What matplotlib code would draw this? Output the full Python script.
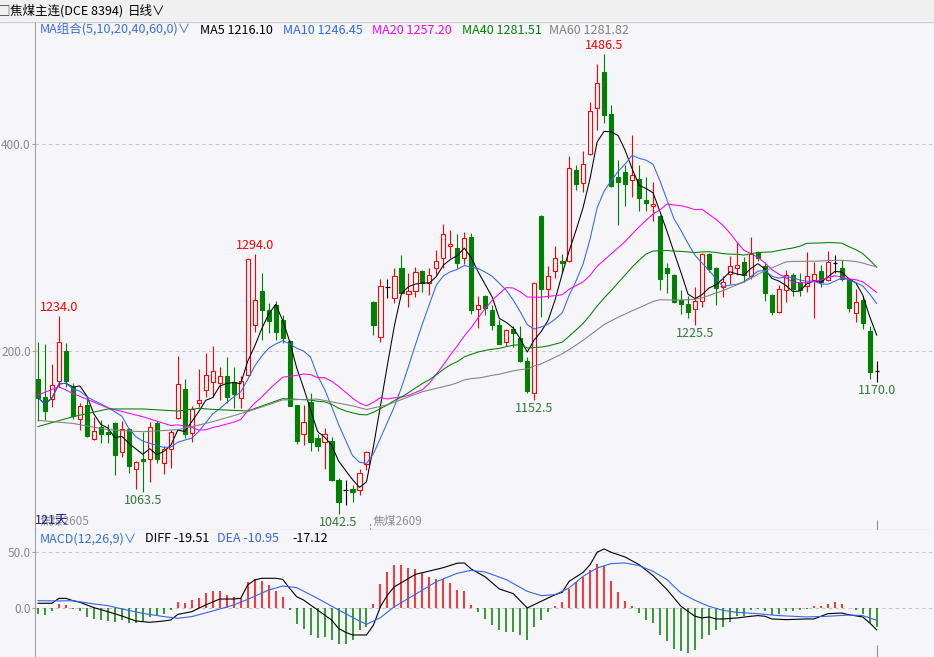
import numpy as np
import pandas as pd
import matplotlib
matplotlib.use('Agg')
import matplotlib.pyplot as plt
from matplotlib.patches import Rectangle

plt.rcParams['font.family'] = ['Noto Sans CJK SC', 'DejaVu Sans']

# ---- daily bars (121 days) ----
opens = [1173, 1156, 1154, 1171, 1200, 1165, 1134, 1148, 1115, 1127,
         1122, 1130, 1102, 1125, 1086, 1096, 1096, 1130, 1092, 1105,
         1135, 1163, 1121, 1150, 1162, 1170, 1169, 1176, 1170, 1155,
         1177, 1225, 1258, 1240, 1244, 1230, 1210, 1148, 1120, 1151,
         1116, 1112, 1113, 1075, 1066, 1067, 1066, 1091, 1247, 1214,
         1261.5, 1251, 1280, 1255, 1258, 1277, 1266, 1280, 1290, 1301,
         1300, 1290, 1310, 1241, 1253, 1240, 1225, 1209, 1221, 1213,
         1190, 1159, 1330, 1260, 1277, 1287, 1287, 1375, 1362, 1390,
         1435, 1470, 1429, 1368, 1373, 1365, 1366, 1346, 1340, 1330,
         1280, 1273, 1249, 1245, 1241, 1248, 1294, 1280, 1262, 1274,
         1280, 1286, 1272, 1296, 1282, 1254, 1238, 1259, 1273, 1267,
         1263, 1269, 1277, 1269, 1285, 1280, 1269, 1237, 1249, 1219, 1181]
highs = [1209, 1207, 1187, 1234, 1208, 1169, 1150, 1154, 1136, 1133,
         1129, 1131, 1132, 1126, 1094, 1122, 1131, 1132, 1108, 1124,
         1195, 1173, 1147, 1183, 1198, 1205, 1185, 1194, 1185, 1176,
         1290, 1294, 1275, 1246, 1248, 1235, 1211, 1148, 1148, 1159,
         1120, 1126, 1117, 1077, 1075, 1071, 1086, 1103, 1248, 1270,
         1270, 1280, 1293, 1275, 1281, 1278, 1280, 1298, 1323, 1317,
         1313, 1315, 1314, 1253, 1254, 1244, 1231, 1221, 1224, 1224,
         1194, 1267, 1331, 1282, 1301, 1294, 1388, 1380, 1393, 1441,
         1477, 1486.5, 1438, 1385, 1380, 1409, 1380, 1368, 1363, 1331,
         1285, 1274, 1259, 1253, 1262, 1295, 1295, 1281, 1272, 1292,
         1305, 1291, 1310, 1297, 1286, 1255, 1264, 1278, 1275, 1275,
         1296, 1286, 1283, 1297, 1293, 1288, 1270, 1260, 1253, 1224, 1190]
lows = [1132, 1133, 1146, 1165, 1165, 1134, 1124, 1117, 1114, 1111,
        1111, 1080, 1098, 1082, 1067, 1063.5, 1073, 1092, 1081, 1087,
        1134, 1116, 1112, 1146, 1156, 1156, 1153, 1150, 1145, 1145,
        1176, 1218, 1211, 1217, 1211, 1208, 1147, 1110, 1109, 1103,
        1103, 1086, 1074, 1042.5, 1051, 1054, 1061, 1085, 1215, 1209,
        1251, 1246, 1255, 1243, 1252, 1257, 1254, 1273, 1280, 1290,
        1280, 1284, 1236, 1222, 1235, 1220, 1207, 1205, 1204, 1189,
        1159, 1152.5, 1233, 1251, 1271, 1275, 1286, 1356, 1354, 1389,
        1414, 1420, 1358, 1322, 1340, 1349, 1335, 1335, 1326, 1259,
        1256, 1246, 1236, 1232, 1225.5, 1243, 1276, 1244, 1252, 1265,
        1273, 1267, 1270, 1287, 1248, 1235, 1237, 1247, 1253, 1253,
        1257, 1232, 1262, 1268, 1275, 1268, 1238, 1228, 1221, 1173, 1170]
closes = [1155, 1142, 1167, 1209, 1171, 1137, 1147, 1118, 1123, 1120,
          1120, 1100, 1125, 1089, 1093, 1094, 1127, 1096, 1105, 1122,
          1168, 1120, 1144, 1153, 1177, 1181, 1176, 1156, 1158, 1171,
          1289, 1249, 1240, 1229, 1218, 1213, 1147, 1113, 1131, 1112,
          1108, 1120, 1075, 1054, 1066, 1064, 1082, 1102, 1225, 1263,
          1261.5, 1272, 1256, 1258, 1276, 1266, 1273, 1287, 1313, 1303,
          1285, 1309, 1240, 1244, 1242, 1225, 1207, 1220, 1217, 1190,
          1161, 1266, 1260, 1272, 1290, 1285, 1377, 1361, 1381, 1432,
          1459, 1428, 1359, 1363, 1361, 1370, 1348, 1343, 1342, 1270,
          1275, 1247, 1245, 1238, 1248, 1294, 1279, 1261, 1267, 1282,
          1283, 1273, 1294, 1290, 1256, 1238, 1260, 1273, 1260, 1259,
          1272, 1274, 1267, 1286, 1285, 1270, 1242, 1247, 1227, 1180, 1181]

# start of the long averages (before a full window exists), read at sample days
ma20_lead_idx = [0, 3, 5, 10, 15]
ma20_lead_val = [1157.5, 1165.5, 1159, 1145, 1136.5]
ma40_lead_idx = [0, 5, 10, 15, 20, 23, 25, 30, 35]
ma40_lead_val = [1127, 1136.5, 1144, 1144, 1142, 1144.6, 1143.6, 1142, 1154]
ma60_lead_idx = [0, 5, 10, 15, 20, 23, 25, 30, 35, 40, 45, 47, 50, 55]
ma60_lead_val = [1133, 1130, 1124, 1122, 1124, 1128.5, 1131.7, 1141.4, 1152.7, 1153.5,
                 1147, 1143.5, 1148, 1160.7]

# MACD(12,26,9): DIFF / DEA at sample days, bars per day
diff_idx = [0, 2, 3, 4, 5, 6, 8, 10, 12, 14, 16, 18, 19, 20, 22, 24, 26, 28, 29, 30,
            31, 32, 34, 35, 36, 37, 38, 40, 42, 43, 44, 45, 47, 48, 49, 50, 51, 52, 54,
            56, 58, 60, 61, 62, 64, 66, 68, 70, 72, 74, 75, 76, 78, 79, 80, 81, 82, 84,
            86, 88, 90, 92, 94, 95, 96, 97, 98, 100, 102, 103, 104, 105, 107, 110, 111,
            113, 115, 116, 118, 119, 120]
diff_val = [4.2, 4.2, 8.6, 8.6, 6.5, 5.1, 0.3, -3.3, -7.1, -11.6, -12.8, -11.6, -10.7,
            -5.7, -3.3, 2.7, 8.0, 8.0, 8.6, 20.5, 25.0, 26.5, 26.5, 25.6, 17.6, 10.1, 7.1,
            -1.8, -10.7, -18.2, -21.7, -24.1, -24.1, -15.2, 1.2, 11.6, 19.0, 22.6, 30.0,
            33.0, 36.0, 40.0, 40.2, 34.8, 27.7, 17.0, 12.8, 0.0, 6.0, 11.9, 14.0, 23.8,
            31.8, 38.7, 49.7, 52.7, 49.7, 45.5, 38.7, 28.9, 16.4, 1.5, -7.4, -8.9, -8.0,
            -9.8, -9.8, -8.9, -7.4, -6.8, -7.4, -9.8, -10.4, -9.8, -9.8, -5.1, -4.5, -6.0,
            -8.0, -13.4, -19.51]
dea_idx = [0, 3, 5, 8, 10, 12, 15, 18, 20, 22, 25, 28, 30, 33, 35, 37, 40, 43, 46, 47,
           49, 51, 54, 57, 60, 62, 64, 67, 70, 72, 74, 76, 78, 80, 82, 84, 86, 88, 90,
           92, 94, 96, 98, 100, 103, 106, 110, 113, 116, 118, 120]
dea_val = [6.5, 6.3, 6.5, 3.6, 2.1, -0.9, -4.8, -7.7, -9.2, -7.7, -2.7, 2.7, 7.7, 16.0,
           19.6, 18.2, 8.6, -1.8, -11.6, -14.6, -8.6, 1.2, 12.2, 23.5, 31.0, 33.6, 32.1,
           25.3, 14.9, 11.0, 11.9, 17.9, 28.3, 35.7, 39.6, 40.2, 37.8, 32.7, 25.3, 13.4,
           6.8, 1.5, -2.1, -3.9, -5.1, -6.8, -8.0, -7.4, -6.3, -6.8, -10.95]
macd_bar = [-5.1, -6.3, -2.4, 3.3, 2.4, -0.6, -2.4, -7.7, -9.8, -11.0,
            -11.6, -12.8, -10.7, -13.1, -13.7, -11.9, -7.7, -7.1, -5.7, -1.8,
            5.7, 4.2, 7.1, 8.6, 13.7, 15.2, 15.2, 11.6, 10.1, 8.6,
            23.5, 25.6, 24.1, 20.5, 15.2, 10.1, -1.5, -14.3, -18.8, -24.1,
            -26.5, -25.9, -28.9, -32.4, -32.4, -28.9, -19.6, -17.0, 3.6, 21.4,
            32.4, 38.4, 38.4, 36.0, 34.8, 31.0, 28.0, 25.6, 25.6, 22.6,
            16.4, 14.9, 3.0, -3.9, -9.5, -14.9, -19.9, -21.7, -21.7, -24.4,
            -28.9, -17.3, -10.4, -3.9, 1.5, 5.1, 17.3, 22.9, 27.4, 34.2,
            39.6, 37.2, 23.8, 14.3, 6.0, 1.5, -4.5, -10.4, -13.4, -24.4,
            -29.8, -36.6, -38.7, -40.2, -37.2, -27.7, -23.8, -19.9, -17.3, -12.2,
            -7.4, -6.8, -2.1, -0.9, -3.0, -6.0, -5.1, -3.0, -3.0, -2.1,
            -0.9, 1.5, 1.5, 3.9, 5.1, 3.9, -0.3, -1.5, -5.1, -13.4, -17.12]

# header / legend texts
ma_names = ['MA5', 'MA10', 'MA20', 'MA40', 'MA60']
ma_last = [1216.10, 1246.45, 1257.20, 1281.51, 1281.82]
macd_last = [-19.51, -10.95, -17.12]
high_marks = [3, 31, 81]
low_marks = [15, 43, 71, 94, 120]

BG = '#f5f5fa'
UP = '#ff0000'
DOWN = '#008000'
LOWTXT = '#2e7d32'
MA_COLORS = ['#000000', '#3366ee', '#ff00ff', '#008000', '#808080']
W, H = 934, 657


def box(x0, y0, x1, y1):
    return [x0 / W, 1 - y1 / H, (x1 - x0) / W, (y1 - y0) / H]


def fig_text(px, py, s, **kw):
    fig.text(px / W, 1 - py / H, s, va='center', ha='left', **kw)


def long_ma(n, lead_idx, lead_val):
    full = pd.Series(closes, dtype=float).rolling(n).mean()
    xs = list(lead_idx) + list(range(n - 1, len(closes)))
    ys = list(lead_val) + list(full.iloc[n - 1:])
    return xs, ys


fig = plt.figure(figsize=(W / 100, H / 100), dpi=100, facecolor=BG)

# header strip
fig.patches.append(Rectangle((0, 1 - 21 / H), 1, 21 / H, transform=fig.transFigure,
                             facecolor='#f0f0f0', edgecolor='none', zorder=0))
fig.add_artist(plt.Line2D([0, 1], [1 - 21.5 / H] * 2, color='#c8c8c8', lw=0.8))
fig_text(-2, 11, '□', fontsize=9, color='#333333')
fig_text(10, 11, '焦煤主连(DCE 8394)', fontsize=9, color='black')
fig_text(128, 11, '日线∨', fontsize=9, color='black')

ax = fig.add_axes(box(35, 22, 934, 530))
mx = fig.add_axes(box(35, 530, 934, 657))
x = np.arange(len(closes))

for a in (ax, mx):
    a.set_facecolor(BG)
    a.set_xlim(-0.43, 128.2)
    a.set_xticks([])
    for side in ('top', 'right'):
        a.spines[side].set_visible(False)
    a.spines['left'].set_color('#a0a0a0')
    a.spines['bottom'].set_color('#a0a0a0')
    a.tick_params(axis='y', length=2, color='#a0a0a0', labelcolor='#888888',
                  labelsize=8.5, pad=1)
mx.spines['bottom'].set_visible(False)

# ---- price panel ----
ax.set_ylim(1027.05, 1517.9)
ax.set_yticks([1200, 1400])
ax.set_yticklabels(['200.0', '400.0'])
for lvl in (1200, 1400):
    ax.axhline(lvl, color='#c4c4c4', lw=0.8, ls=(0, (3, 3)), zorder=0)

w = 0.6
for i in range(len(closes)):
    o, h, l, c = opens[i], highs[i], lows[i], closes[i]
    if c > o:
        ax.vlines(i, c, h, color=UP, lw=0.8, zorder=2)
        ax.vlines(i, l, o, color=UP, lw=0.8, zorder=2)
        ax.add_patch(Rectangle((i - w / 2, o), w, c - o, facecolor=BG,
                               edgecolor=UP, lw=0.8, zorder=3))
    elif c < o:
        ax.vlines(i, l, h, color=DOWN, lw=0.8, zorder=2)
        ax.add_patch(Rectangle((i - w / 2, c), w, o - c, facecolor=DOWN,
                               edgecolor=DOWN, lw=0.8, zorder=3))
    else:
        ax.vlines(i, l, h, color='black', lw=0.8, zorder=2)
        ax.hlines(c, i - w / 2, i + w / 2, color='black', lw=0.9, zorder=3)

s = pd.Series(closes, dtype=float)
ma5 = s.rolling(5, min_periods=1).mean()
ma10 = s.rolling(10, min_periods=1).mean()
ax.plot(x, ma5, color=MA_COLORS[0], lw=0.75, zorder=4)
ax.plot(x, ma10, color=MA_COLORS[1], lw=0.75, zorder=4)
ax.plot(*long_ma(20, ma20_lead_idx, ma20_lead_val), color=MA_COLORS[2], lw=0.75, zorder=4)
ax.plot(*long_ma(40, ma40_lead_idx, ma40_lead_val), color=MA_COLORS[3], lw=0.75, zorder=4)
ax.plot(*long_ma(60, ma60_lead_idx, ma60_lead_val), color=MA_COLORS[4], lw=0.75, zorder=4)

for i in high_marks:
    ax.annotate(f'{highs[i]:.1f}', (i, highs[i]), xytext=(0, 1.5),
                textcoords='offset points', ha='center', va='bottom',
                color=UP, fontsize=9, zorder=5)
for i in low_marks:
    ax.annotate(f'{lows[i]:.1f}', (i, lows[i]), xytext=(0, -1.5),
                textcoords='offset points', ha='center', va='top',
                color=LOWTXT, fontsize=9, zorder=5)

# MA legend row
fig_text(40, 30, 'MA组合(5,10,20,40,60,0)∨', fontsize=9, color='#3a6fd8')
ma_x = [200, 283, 372, 462, 549]
for px, name, val, col in zip(ma_x, ma_names, ma_last, MA_COLORS):
    fig_text(px, 30, f'{name} {val:.2f}', fontsize=9, color=col)

# bottom notes in price panel
fig_text(40, 522, '焦煤2605', fontsize=8.5, color='#909090')
fig_text(35, 521, '121天', fontsize=9, color='#1a1a9a')
ax.vlines(47.5, 1027.05, 1035, color='#909090', lw=0.8, ls=(0, (2, 2)))
fig_text(373, 522, '焦煤2609', fontsize=8.5, color='#909090')
ax.vlines(x[-1], 1027.05, 1037, color='#909090', lw=0.8)

# ---- MACD panel ----
mx.set_ylim(-43.75, 69.6)
mx.set_yticks([0, 50])
mx.set_yticklabels(['0.0', '50.0'])
for lvl in (0, 50):
    mx.axhline(lvl, color='#c4c4c4', lw=0.8, ls=(0, (3, 3)), zorder=0)
bars = np.array(macd_bar)
mx.vlines(x, 0, bars, colors=np.where(bars >= 0, UP, DOWN), lw=1.1, zorder=2)
mx.plot(diff_idx, diff_val, color='black', lw=0.8, zorder=3)
mx.plot(dea_idx, dea_val, color=MA_COLORS[1], lw=0.8, zorder=3)
mx.vlines(x[-1], -43.75, -33, color='#909090', lw=0.8)

fig_text(40, 539, 'MACD(12,26,9)∨', fontsize=9, color='#3a6fd8')
fig_text(145, 539, f'DIFF {macd_last[0]:.2f}', fontsize=9, color='black')
fig_text(217, 539, f'DEA {macd_last[1]:.2f}', fontsize=9, color=MA_COLORS[1])
fig_text(292, 539, f'{macd_last[2]:.2f}', fontsize=9, color='black')

fig.savefig('out.png', dpi=100, facecolor=BG)
